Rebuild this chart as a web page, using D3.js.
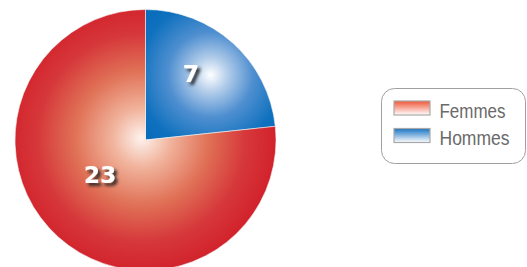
<!DOCTYPE html>
<html>
<head>
<meta charset="utf-8">
<script src="https://cdn.jsdelivr.net/npm/d3@7"></script>
<style>
  html, body { margin: 0; padding: 0; background: #fff; }
  svg { display: block; }
</style>
</head>
<body>
<svg id="chart" width="527" height="267"></svg>
<script>
// data
const categories = ["Hommes", "Femmes"];
const values = [7, 23];
const legendOrder = ["Femmes", "Hommes"];

const svg = d3.select("#chart");
const defs = svg.append("defs");

const cx = 145.5, cy = 140, radius = 130.5;

// slice gradients (coords relative to pie centre)
const red = defs.append("radialGradient").attr("id", "grad-Femmes")
    .attr("gradientUnits", "userSpaceOnUse")
    .attr("cx", -4).attr("cy", -2).attr("r", radius * 1.02);
red.append("stop").attr("offset", "0").attr("stop-color", "#fdf3ee");
red.append("stop").attr("offset", "0.22").attr("stop-color", "#f1b39c");
red.append("stop").attr("offset", "0.5").attr("stop-color", "#e07257");
red.append("stop").attr("offset", "0.78").attr("stop-color", "#d6383a");
red.append("stop").attr("offset", "1").attr("stop-color", "#d2232c");

const blue = defs.append("radialGradient").attr("id", "grad-Hommes")
    .attr("gradientUnits", "userSpaceOnUse")
    .attr("cx", 65).attr("cy", -65).attr("r", 85);
blue.append("stop").attr("offset", "0").attr("stop-color", "#ffffff");
blue.append("stop").attr("offset", "0.2").attr("stop-color", "#b3cdea");
blue.append("stop").attr("offset", "0.5").attr("stop-color", "#4f8fd0");
blue.append("stop").attr("offset", "0.85").attr("stop-color", "#0f71be");
blue.append("stop").attr("offset", "1").attr("stop-color", "#0a6dbc");

// legend swatch gradients
const swatchColors = { Femmes: "#ef5638", Hommes: "#1672c2" };
legendOrder.forEach(k => {
    const g = defs.append("linearGradient").attr("id", "sw-" + k)
        .attr("x1", 0).attr("y1", 0).attr("x2", 0).attr("y2", 1);
    g.append("stop").attr("offset", "0").attr("stop-color", swatchColors[k]);
    g.append("stop").attr("offset", "1").attr("stop-color", "#ffffff");
});

// label shadow
const f = defs.append("filter").attr("id", "shadow")
    .attr("x", "-30%").attr("y", "-30%").attr("width", "180%").attr("height", "180%");
f.append("feDropShadow").attr("dx", 3).attr("dy", 3).attr("stdDeviation", 1.5)
    .attr("flood-color", "#222").attr("flood-opacity", 0.85);

const pie = d3.pie().sort(null).value(d => d.value);
const arcs = pie(categories.map((c, i) => ({ name: c, value: values[i] })));
const arc = d3.arc().innerRadius(0).outerRadius(radius);
const labelArc = d3.arc().innerRadius(radius * 0.52).outerRadius(radius * 0.52);

const g = svg.append("g").attr("transform", `translate(${cx},${cy})`);

g.selectAll("path.slice").data(arcs).enter().append("path")
    .attr("class", "slice")
    .attr("d", arc)
    .attr("fill", d => `url(#grad-${d.data.name})`)
    .attr("stroke", "#f4f4f4").attr("stroke-width", 0.6);

g.selectAll("text.val").data(arcs).enter().append("text")
    .attr("class", "val")
    .attr("transform", d => {
        const c = labelArc.centroid(d);
        return `translate(${c[0]},${c[1] - 16})`;
    })
    .attr("text-anchor", "middle")
    .attr("dy", "0.36em")
    .attr("font-family", "DejaVu Sans")
    .attr("font-weight", "bold")
    .attr("font-size", 23.5)
    .attr("fill", "#fff")
    .attr("filter", "url(#shadow)")
    .text(d => d.data.value);

// legend
const legend = svg.append("g").attr("transform", "translate(381.5,88.5)");
legend.append("rect")
    .attr("width", 144).attr("height", 75).attr("rx", 13)
    .attr("fill", "#fff").attr("stroke", "#a0a0a0").attr("stroke-width", 1);

const item = legend.selectAll("g.item").data(legendOrder).enter().append("g")
    .attr("class", "item")
    .attr("transform", (d, i) => `translate(12.5,${12.5 + i * 27.5})`);
item.append("rect")
    .attr("width", 36).attr("height", 14)
    .attr("fill", d => `url(#sw-${d})`)
    .attr("stroke", "#a8a8a8").attr("stroke-width", 1.2);
item.append("text")
    .attr("x", 45.5).attr("y", 16.5)
    .attr("font-family", "Liberation Sans, Arial, sans-serif")
    .attr("font-size", 20)
    .attr("fill", "#6a6a6a")
    .attr("textLength", (d, i) => i === 0 ? 66 : 70)
    .attr("lengthAdjust", "spacingAndGlyphs")
    .text(d => d);
</script>
</body>
</html>
